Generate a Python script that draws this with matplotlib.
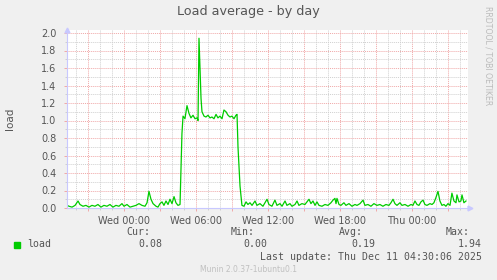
"""
Munin style "Load average - by day" graph.
Values read off the reference picture.
"""
import matplotlib
matplotlib.use("Agg")
import matplotlib.pyplot as plt
from matplotlib.patches import Rectangle

W, H = 497, 280

# hours relative to Wed 00:00
HOURS = [-4.75, -4.58, -4.33, -4.08, -3.83, -3.67, -3.42, -3.17, -2.92, -2.67,
         -2.42, -2.17, -1.92, -1.67, -1.42, -1.17, -0.92, -0.67, -0.42, -0.17,
         0.0, 0.25, 0.5, 0.75, 1.0, 1.25, 1.5, 1.75, 1.92, 2.08,
         2.25, 2.42, 2.67, 2.83, 3.0, 3.17, 3.33, 3.5, 3.67, 3.83,
         4.0, 4.17, 4.33, 4.5, 4.67, 4.83, 4.92, 5.08, 5.25, 5.42,
         5.58, 5.75, 5.92, 6.08, 6.17, 6.25, 6.42, 6.5, 6.67, 6.83,
         7.0, 7.17, 7.33, 7.5, 7.67, 7.83, 8.0, 8.17, 8.33, 8.5,
         8.67, 8.83, 9.0, 9.17, 9.33, 9.42, 9.5, 9.67, 9.83, 10.0,
         10.17, 10.33, 10.5, 10.67, 10.92, 11.08, 11.33, 11.58, 11.75, 11.92,
         12.08, 12.33, 12.58, 12.75, 13.0, 13.17, 13.42, 13.58, 13.83, 14.0,
         14.25, 14.42, 14.58, 14.83, 15.08, 15.25, 15.42, 15.58, 15.75, 15.92,
         16.08, 16.25, 16.5, 16.75, 17.0, 17.25, 17.42, 17.58, 17.67, 17.75,
         17.92, 18.08, 18.33, 18.5, 18.75, 19.0, 19.25, 19.42, 19.67, 19.92,
         20.08, 20.33, 20.58, 20.83, 21.08, 21.33, 21.58, 21.83, 22.08, 22.25,
         22.42, 22.58, 22.75, 23.0, 23.17, 23.42, 23.67, 23.92, 24.08, 24.25,
         24.42, 24.58, 24.75, 24.92, 25.08, 25.25, 25.5, 25.67, 25.83, 26.0,
         26.17, 26.33, 26.5, 26.67, 26.83, 27.0, 27.17, 27.33, 27.5, 27.67,
         27.75, 27.92, 28.08, 28.17, 28.33, 28.5]
LOAD = [0.03, 0.02, 0.01, 0.03, 0.08, 0.04, 0.02, 0.03, 0.01, 0.03,
        0.02, 0.04, 0.01, 0.03, 0.02, 0.04, 0.01, 0.03, 0.02, 0.05,
        0.02, 0.04, 0.01, 0.02, 0.03, 0.05, 0.03, 0.02, 0.06, 0.19,
        0.10, 0.05, 0.02, 0.01, 0.05, 0.07, 0.03, 0.08, 0.04, 0.10,
        0.05, 0.13, 0.06, 0.03, 0.04, 0.85, 1.05, 1.02, 1.17, 1.08,
        1.03, 1.06, 1.02, 1.03, 1.00, 1.94, 1.25, 1.10, 1.05, 1.04,
        1.06, 1.03, 1.04, 1.02, 1.07, 1.03, 1.05, 1.02, 1.12, 1.10,
        1.06, 1.04, 1.05, 1.02, 1.06, 1.07, 0.70, 0.25, 0.03, 0.02,
        0.07, 0.04, 0.06, 0.03, 0.08, 0.03, 0.05, 0.02, 0.06, 0.10,
        0.04, 0.02, 0.09, 0.03, 0.05, 0.02, 0.08, 0.03, 0.05, 0.02,
        0.04, 0.08, 0.03, 0.05, 0.04, 0.07, 0.10, 0.05, 0.08, 0.03,
        0.07, 0.03, 0.02, 0.04, 0.03, 0.06, 0.09, 0.11, 0.05, 0.11,
        0.04, 0.03, 0.06, 0.03, 0.05, 0.02, 0.04, 0.03, 0.05, 0.09,
        0.03, 0.04, 0.02, 0.05, 0.03, 0.04, 0.02, 0.04, 0.03, 0.06,
        0.10, 0.05, 0.03, 0.06, 0.03, 0.04, 0.02, 0.04, 0.03, 0.08,
        0.04, 0.03, 0.07, 0.09, 0.04, 0.03, 0.05, 0.04, 0.06, 0.12,
        0.19, 0.08, 0.03, 0.04, 0.02, 0.05, 0.03, 0.17, 0.08, 0.06,
        0.15, 0.07, 0.08, 0.15, 0.06, 0.08]

X_TICKS = [0, 6, 12, 18, 24]
X_LABELS = ["Wed 00:00", "Wed 06:00", "Wed 12:00", "Wed 18:00", "Thu 00:00"]
Y_TICKS = [0.0, 0.2, 0.4, 0.6, 0.8, 1.0, 1.2, 1.4, 1.6, 1.8, 2.0]

STAT_NAMES = ["Cur:", "Min:", "Avg:", "Max:"]
STAT_VALUES = ["0.08", "0.00", "0.19", "1.94"]
LAST_UPDATE = "Last update: Thu Dec 11 04:30:06 2025"

GREEN = "#00cc00"
TEXT = "#555555"
AXIS = "#c8c8ff"
MAJOR = "#f0a8a8"
MINOR = "#d0d0d0"


def fx(px):
    return px / W


def fy(py):
    return 1 - py / H


fig = plt.figure(figsize=(W / 100, H / 100), dpi=100, facecolor="#f0f0f0")
ax = fig.add_axes([fx(67), fy(208), fx(468) - fx(67), fy(30) - fy(208)])
ax.set_facecolor("white")

ax.set_xlim(-4.75, 28.67)
ax.set_ylim(0, 2.0 + 3 / 87.5)

# grid: major red every 3h / 0.2, minor grey every 1h / 0.1
ax.set_xticks([h for h in range(-3, 29, 3)])
ax.set_xticks([h for h in range(-4, 29)], minor=True)
ax.set_xticklabels([X_LABELS[X_TICKS.index(h)] if h in X_TICKS else ""
                    for h in range(-3, 29, 3)])
ax.set_yticks(Y_TICKS)
ax.set_yticklabels(["%.1f" % v for v in Y_TICKS])
ax.set_yticks([i / 10 for i in range(0, 21)], minor=True)

ax.grid(which="minor", color=MINOR, linestyle=(0, (1, 1)), linewidth=0.7)
ax.grid(which="major", color=MAJOR, linestyle=(0, (1, 1)), linewidth=0.7)
ax.set_axisbelow(True)

ax.tick_params(which="major", length=2.5, width=0.7, color=MAJOR,
               labelsize=7, labelcolor=TEXT)
ax.tick_params(which="minor", length=1.5, width=0.7, color=MINOR)
ax.tick_params(axis="x", pad=3)
ax.tick_params(axis="y", pad=5)

for side in ["top", "right"]:
    ax.spines[side].set_visible(False)
for side in ["left", "bottom"]:
    ax.spines[side].set_color(AXIS)
    ax.spines[side].set_linewidth(0.8)

# axis arrows
ax.plot([0], [1.0], marker="^", markersize=3.5, color=AXIS,
        transform=ax.transAxes, clip_on=False)
ax.plot([1.004], [0], marker=">", markersize=3.5, color=AXIS,
        transform=ax.transAxes, clip_on=False)

ax.plot(HOURS, LOAD, color=GREEN, linewidth=0.9)

fig.text(fx(248), fy(12), "Load average - by day", ha="center", va="center",
         fontsize=9.2, color=TEXT)
fig.text(fx(10), fy(119), "load", ha="center", va="center", rotation=90,
         fontsize=7.5, color=TEXT)
fig.text(fx(488), fy(56), "RRDTOOL / TOBI OETIKER", ha="center", va="center",
         rotation=270, fontsize=5.6, color="#bbbbbb")

# legend
fig.patches.append(Rectangle((fx(14), fy(248)), fx(6), fy(242) - fy(248),
                             transform=fig.transFigure, color=GREEN))
mono = dict(family="DejaVu Sans Mono", fontsize=7.1, color=TEXT)
fig.text(fx(27), fy(244), "load", ha="left", va="center", **mono)
stat_right = [150, 255, 363, 470]
for name, value, xr in zip(STAT_NAMES, STAT_VALUES, stat_right):
    fig.text(fx(xr), fy(232), name, ha="right", va="center", **mono)
    fig.text(fx(xr + 12), fy(244), value, ha="right", va="center", **mono)
fig.text(fx(482), fy(257), LAST_UPDATE, ha="right", va="center", **mono)
fig.text(fx(248), fy(270), "Munin 2.0.37-1ubuntu0.1", ha="center",
         va="center", fontsize=5.5, color="#c0c0c0")

fig.savefig("out.png", dpi=100, facecolor=fig.get_facecolor())
